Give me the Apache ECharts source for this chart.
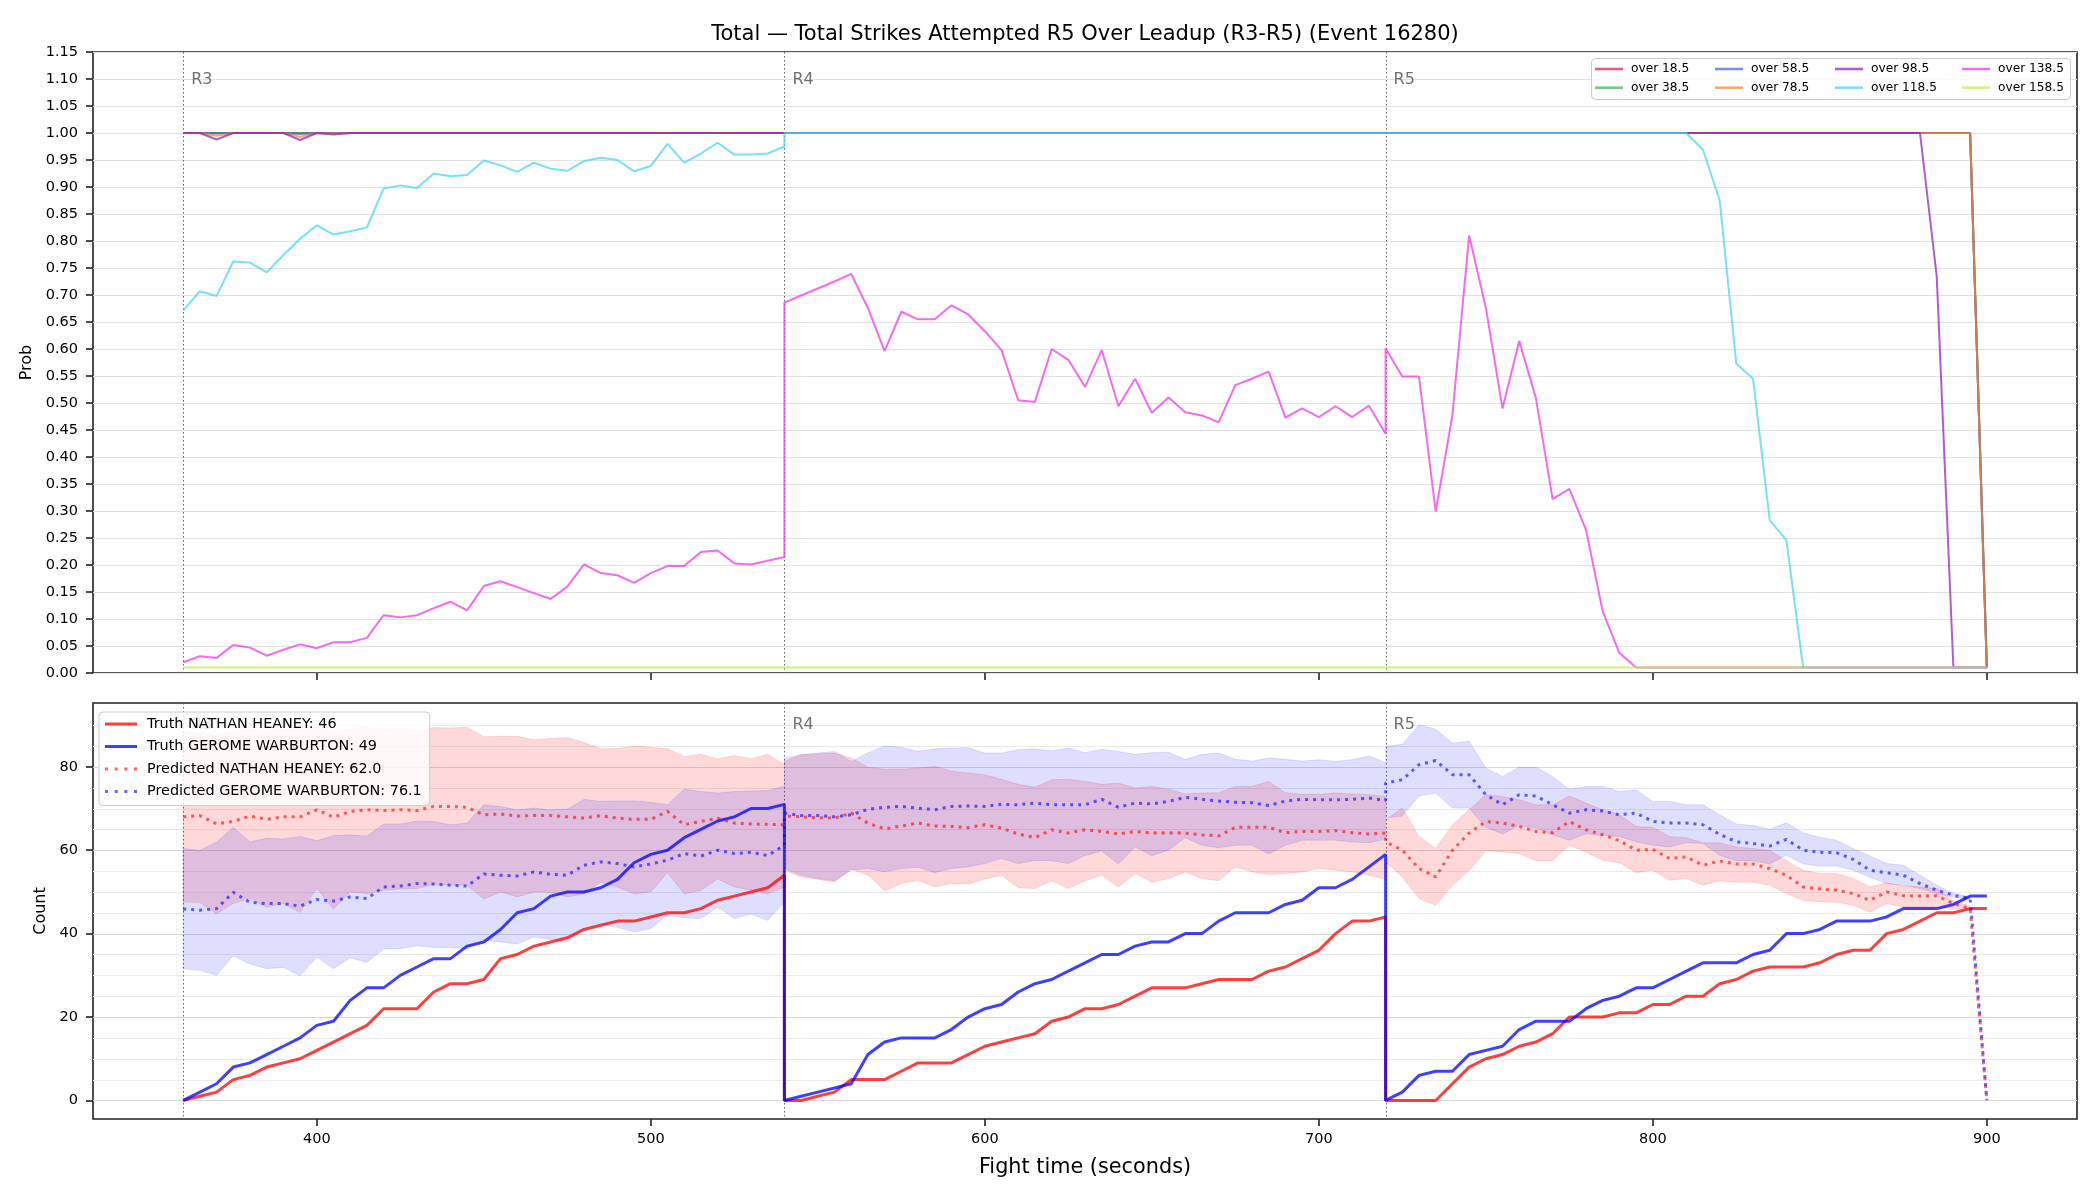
<!DOCTYPE html>
<html>
<head>
<meta charset="utf-8">
<title>Total Strikes Attempted R5 Over Leadup</title>
<script src="https://cdn.jsdelivr.net/npm/echarts@6/dist/echarts.min.js"></script>
<style>
  html, body { margin: 0; padding: 0; background: #fff; }
  #chart { width: 2100px; height: 1200px; }
</style>
</head>
<body>
<div id="chart"></div>
<script>
// rounds: each round is sampled every 5 s, boundary times appear twice (end of one round, start of next)
const ROUND_NAMES = ['R3', 'R4', 'R5'];
const ROUND_STARTS = [360, 540, 720];
const ROUND_OFFSETS = [0, 5, 10, 15, 20, 25, 30, 35, 40, 45, 50, 55, 60, 65, 70, 75, 80, 85, 90, 95,
  100, 105, 110, 115, 120, 125, 130, 135, 140, 145, 150, 155, 160, 165, 170, 175, 180];
const X_TICKS = [400, 500, 600, 700, 800, 900];
const COUNT_TICKS = [0, 20, 40, 60, 80];
const COUNT_GRID = [0, 5, 10, 15, 20, 25, 30, 35, 40, 45, 50, 55, 60, 65, 70, 75, 80, 85, 90];

// ---- top panel: probability of going over each line ----
const OVER_NAMES = ['over 18.5', 'over 38.5', 'over 58.5', 'over 78.5', 'over 98.5', 'over 118.5', 'over 138.5', 'over 158.5'];

const OVER_18 = [
  1,1,1,1,1,1,1,1,1,1, 1,1,1,1,1,1,1,1,1,1, 1,1,1,1,1,1,1,1,1,1, 1,1,1,1,1,1,1,
  1,1,1,1,1,1,1,1,1,1, 1,1,1,1,1,1,1,1,1,1, 1,1,1,1,1,1,1,1,1,1, 1,1,1,1,1,1,1,
  1,1,1,1,1,1,1,1,1,1, 1,1,1,1,1,1,1,1,1,1, 1,1,1,1,1,1,1,1,1,1, 1,1,1,1,1,1,0.01];
const OVER_38 = [
  1,1,1,1,1,1,1,1,1,1, 1,1,1,1,1,1,1,1,1,1, 1,1,1,1,1,1,1,1,1,1, 1,1,1,1,1,1,1,
  1,1,1,1,1,1,1,1,1,1, 1,1,1,1,1,1,1,1,1,1, 1,1,1,1,1,1,1,1,1,1, 1,1,1,1,1,1,1,
  1,1,1,1,1,1,1,1,1,1, 1,1,1,1,1,1,1,1,1,1, 1,1,1,1,1,1,1,1,1,1, 1,1,1,1,1,1,0.01];
const OVER_58 = [
  1,1,0.999,1,1,1,1,0.998,1,1, 1,1,1,1,1,1,1,1,1,1, 1,1,1,1,1,1,1,1,1,1, 1,1,1,1,1,1,1,
  1,1,1,1,1,1,1,1,1,1, 1,1,1,1,1,1,1,1,1,1, 1,1,1,1,1,1,1,1,1,1, 1,1,1,1,1,1,1,
  1,1,1,1,1,1,1,1,1,1, 1,1,1,1,1,1,1,1,1,1, 1,1,1,1,1,1,1,1,1,1, 1,1,1,1,1,1,0.01];
const OVER_78 = [
  1,1,0.995,1,1,1,1,0.993,1,0.999, 1,1,1,1,1,1,1,1,1,1, 1,1,1,1,1,1,1,1,1,1, 1,1,1,1,1,1,1,
  1,1,1,1,1,1,1,1,1,1, 1,1,1,1,1,1,1,1,1,1, 1,1,1,1,1,1,1,1,1,1, 1,1,1,1,1,1,1,
  1,1,1,1,1,1,1,1,1,1, 1,1,1,1,1,1,1,1,1,1, 1,1,1,1,1,1,1,1,1,1, 1,1,1,1,1,1,0.01];
const OVER_98 = [
  1,1,0.988,1,1,1,1,0.987,1,0.997, 1,1,1,1,1,1,1,1,1,1, 1,1,1,1,1,1,1,1,1,1, 1,1,1,1,1,1,1,
  1,1,1,1,1,1,1,1,1,1, 1,1,1,1,1,1,1,1,1,1, 1,1,1,1,1,1,1,1,1,1, 1,1,1,1,1,1,1,
  1,1,1,1,1,1,1,1,1,1, 1,1,1,1,1,1,1,1,1,1, 1,1,1,1,1,1,1,1,1,1, 1,1,1,0.735,0.01,0.01,0.01];
const OVER_118 = [
  0.671,0.707,0.698,0.762,0.760,0.742,0.774,0.804,0.829,0.812, 0.818,0.825,0.897,0.903,0.898,0.925,0.920,0.922,0.949,0.940,
  0.928,0.945,0.934,0.930,0.948,0.954,0.950,0.929,0.939,0.980, 0.945,0.962,0.982,0.960,0.960,0.962,0.975,
  1,1,1,1,1,1,1,1,1,1, 1,1,1,1,1,1,1,1,1,1, 1,1,1,1,1,1,1,1,1,1, 1,1,1,1,1,1,1,
  1,1,1,1,1,1,1,1,1,1, 1,1,1,1,1,1,1,1,1,0.969, 0.876,0.573,0.545,0.283,0.246,0.01,0.01,0.01,0.01,0.01,
  0.01,0.01,0.01,0.01,0.01,0.01,0.01];
const OVER_138 = [
  0.020,0.031,0.028,0.052,0.047,0.032,0.043,0.053,0.046,0.057, 0.057,0.065,0.107,0.103,0.107,0.120,0.132,0.116,0.161,0.170,
  0.159,0.148,0.137,0.160,0.201,0.185,0.181,0.167,0.185,0.198, 0.198,0.224,0.227,0.203,0.201,0.208,0.215,
  0.686,0.699,0.712,0.725,0.739,0.676,0.596,0.669,0.655,0.655, 0.681,0.664,0.633,0.598,0.505,0.502,0.600,0.580,0.530,0.598,
  0.494,0.545,0.482,0.510,0.483,0.477,0.464,0.533,0.545,0.558, 0.473,0.490,0.474,0.494,0.474,0.495,0.443,
  0.601,0.549,0.549,0.299,0.477,0.810,0.677,0.490,0.615,0.509, 0.322,0.341,0.265,0.114,0.037,0.01,0.01,0.01,0.01,0.01,
  0.01,0.01,0.01,0.01,0.01,0.01,0.01,0.01,0.01,0.01, 0.01,0.01,0.01,0.01,0.01,0.01,0.01];
const OVER_158 = [
  0.01,0.01,0.01,0.01,0.01,0.01,0.01,0.01,0.01,0.01, 0.01,0.01,0.01,0.01,0.01,0.01,0.01,0.01,0.01,0.01,
  0.01,0.01,0.01,0.01,0.01,0.01,0.01,0.01,0.01,0.01, 0.01,0.01,0.01,0.01,0.01,0.01,0.01,
  0.01,0.01,0.01,0.01,0.01,0.01,0.01,0.01,0.01,0.01, 0.01,0.01,0.01,0.01,0.01,0.01,0.01,0.01,0.01,0.01,
  0.01,0.01,0.01,0.01,0.01,0.01,0.01,0.01,0.01,0.01, 0.01,0.01,0.01,0.01,0.01,0.01,0.01,
  0.01,0.01,0.01,0.01,0.01,0.01,0.01,0.01,0.01,0.01, 0.01,0.01,0.01,0.01,0.01,0.01,0.01,0.01,0.01,0.01,
  0.01,0.01,0.01,0.01,0.01,0.01,0.01,0.01,0.01,0.01, 0.01,0.01,0.01,0.01,0.01,0.01,0.01];

// ---- bottom panel: strike counts ----
const TRUTH_HEANEY = [
  0,1,2,5,6,8,9,10,12,14, 16,18,22,22,22,26,28,28,29,34, 35,37,38,39,41,42,43,43,44,45, 45,46,48,49,50,51,54,
  0,0,1,2,5,5,5,7,9,9, 9,11,13,14,15,16,19,20,22,22, 23,25,27,27,27,28,29,29,29,31, 32,34,36,40,43,43,44,
  0,0,0,0,4,8,10,11,13,14, 16,20,20,20,21,21,23,23,25,25, 28,29,31,32,32,32,33,35,36,36, 40,41,43,45,45,46,46];
const TRUTH_WARBURTON = [
  0,2,4,8,9,11,13,15,18,19, 24,27,27,30,32,34,34,37,38,41, 45,46,49,50,50,51,53,57,59,60, 63,65,67,68,70,70,71,
  0,1,2,3,4,11,14,15,15,15, 17,20,22,23,26,28,29,31,33,35, 35,37,38,38,40,40,43,45,45,45, 47,48,51,51,53,56,59,
  0,2,6,7,7,11,12,13,17,19, 19,19,22,24,25,27,27,29,31,33, 33,33,35,36,40,40,41,43,43,43, 44,46,46,46,47,49,49];
const PRED_HEANEY = [
  68.0,68.3,66.3,66.9,68.2,67.4,68.0,68.0,69.7,67.9, 69.3,69.7,69.5,69.7,69.5,70.5,70.5,70.3,68.5,68.7,
  68.2,68.3,68.3,68.0,67.7,68.3,67.7,67.4,67.4,69.3, 66.1,66.9,67.7,66.5,66.3,66.2,66.1,
  68.2,68.0,67.8,67.7,68.9,66.5,65.1,65.8,66.5,65.8, 65.7,65.4,66.1,65.3,63.9,63.0,64.9,64.1,64.9,64.5,
  63.9,64.5,64.1,64.1,64.1,63.7,63.4,65.5,65.5,65.5, 64.2,64.5,64.5,64.7,64.2,63.9,64.1,
  62.0,60.0,55.6,53.6,60.0,64.1,66.9,66.5,65.7,64.5, 64.2,66.9,64.9,63.7,62.3,60.0,60.2,58.0,58.4,56.4,
  57.4,56.7,56.7,55.6,54.0,51.2,50.7,50.4,49.6,48.0, 50.0,49.1,49.0,49.1,47.2,46.0,0];
const PRED_WARBURTON = [
  45.9,45.6,46.0,49.9,47.5,47.2,47.2,46.6,48.2,47.8, 48.8,48.4,51.2,51.4,52.0,51.9,51.6,51.4,54.3,54.0,
  53.8,54.8,54.2,54.0,56.4,57.2,56.8,56.0,56.7,57.6, 59.2,58.6,60.0,59.2,59.5,58.7,61.2,
  68.9,68.3,68.3,68.0,68.5,69.8,70.3,70.5,70.1,69.7, 70.5,70.6,70.5,71.0,70.9,71.3,70.9,70.9,70.9,72.2,
  70.3,71.3,71.1,71.7,72.7,72.2,71.8,71.5,71.4,70.7, 71.8,72.2,72.1,72.1,72.2,72.5,71.9,
  76.1,76.9,80.5,81.5,78.1,78.1,73.3,70.9,73.3,73.0, 70.9,68.9,69.7,69.4,68.5,68.9,66.9,66.5,66.5,66.1,
  63.8,62.0,61.6,61.0,62.6,60.0,59.5,59.4,57.8,55.2, 54.6,54.0,52.0,50.4,49.2,48.4,0];
const HEANEY_HIGH = [
  88.5,88.0,87.5,88.5,89.0,88.5,89.0,88.8,89.5,88.5, 89.0,89.5,89.0,89.2,88.5,89.4,89.3,89.5,87.2,87.3,
  87.3,86.5,86.8,87.0,85.8,84.3,84.4,85.0,84.7,84.3, 82.5,83.0,81.9,82.7,81.9,83.0,80.5,
  81.3,82.9,83.1,83.3,82.1,79.9,79.4,79.4,79.7,80.1, 79.0,78.5,78.1,77.0,75.8,75.1,76.9,77.0,76.5,75.8,
  76.1,74.9,75.3,74.7,73.5,73.7,73.8,75.3,75.3,76.5, 73.8,73.4,73.4,73.7,73.5,73.3,72.9,
  67.3,70.1,63.3,60.4,66.1,69.7,73.3,72.9,72.1,70.9, 70.9,73.0,71.3,69.7,68.5,65.7,65.5,63.3,63.0,61.8,
  61.8,60.8,60.4,60.0,57.5,55.2,54.4,54.4,53.2,51.2, 52.2,51.4,51.2,50.8,47.9,46.6,null];
const HEANEY_LOW = [
  47.6,47.5,44.7,47.2,48.4,46.3,47.2,45.1,50.8,45.9, 50.0,49.6,50.4,50.7,50.8,51.8,51.6,51.6,48.3,50.0,
  48.8,50.0,49.9,48.8,49.5,52.4,51.2,49.5,50.0,54.6, 49.5,50.4,53.1,51.2,50.4,49.5,51.1,
  55.2,53.6,53.0,52.4,55.5,54.0,50.3,52.0,52.8,51.2, 52.0,51.9,53.1,54.0,51.0,50.8,52.7,50.8,52.7,54.0,
  51.2,54.4,52.3,53.2,54.8,53.2,52.7,56.0,54.8,54.2, 54.4,54.8,55.6,55.2,54.8,54.0,53.0,
  57.2,53.6,48.4,46.8,51.6,55.1,59.9,59.6,59.2,57.5, 57.5,61.2,59.6,57.6,57.0,54.6,55.2,52.8,53.2,51.6,
  52.7,52.3,52.3,51.6,49.6,48.0,47.6,47.5,46.8,45.2, 47.2,46.4,46.4,46.4,46.0,45.6,null];
const WARBURTON_HIGH = [
  60.4,60.0,62.0,65.5,62.0,62.9,62.7,63.3,62.3,63.5, 63.7,63.4,66.3,66.3,67.0,66.9,66.1,66.5,70.9,70.5,
  69.7,70.1,69.7,69.9,72.2,71.7,71.8,71.8,71.5,70.9, 74.7,74.1,73.7,74.1,74.2,74.3,75.4,
  82.1,82.9,83.3,83.7,81.3,83.3,85.0,84.7,83.7,84.3, 84.5,84.6,83.3,83.3,84.1,84.3,83.8,84.5,83.4,84.2,
  83.7,83.0,83.4,83.5,81.8,83.0,83.3,81.8,81.4,82.1, 81.8,81.4,81.7,81.3,81.7,82.6,81.0,
  84.9,85.4,90.1,89.0,85.7,86.1,79.7,77.7,79.9,79.9, 77.7,74.6,75.3,75.3,74.1,74.5,71.7,71.7,70.9,70.9,
  68.5,66.3,65.9,65.0,66.6,64.1,63.1,62.4,60.4,58.6, 56.8,56.4,54.0,51.6,49.6,48.8,null];
const WARBURTON_LOW = [
  31.6,31.2,30.0,34.7,32.7,31.6,31.9,29.9,34.4,31.6, 34.2,33.1,36.3,36.4,37.1,36.7,36.7,36.4,38.4,38.0,
  37.5,39.2,38.6,38.0,41.1,42.3,41.5,40.4,41.2,44.4, 43.8,43.6,46.4,43.6,44.7,43.2,47.5,
  55.6,54.0,53.2,52.7,55.2,55.6,54.8,55.6,55.9,54.6, 55.6,56.0,56.8,58.0,56.8,57.5,57.5,56.8,58.7,59.8,
  56.7,60.8,58.7,60.0,63.0,61.2,60.6,61.2,61.2,59.1, 61.2,62.4,62.4,62.4,62.0,61.8,62.6,
  67.7,68.2,73.0,73.7,70.1,70.1,65.5,63.9,65.9,65.3, 63.7,62.4,63.9,63.5,63.3,62.0,61.2,60.8,61.8,61.6,
  58.8,57.5,57.5,56.7,58.8,56.7,56.2,56.2,55.2,53.5, 52.0,51.6,50.8,49.6,48.7,48.2,null];

const TRUTH_NAMES = ['Truth NATHAN HEANEY: 46', 'Truth GEROME WARBURTON: 49'];
const PRED_NAMES = ['Predicted NATHAN HEANEY: 62.0', 'Predicted GEROME WARBURTON: 76.1'];

// ---- layout / style ----
const FONT = '"DejaVu Sans", Verdana, sans-serif';
const X_MIN = 333, X_MAX = 927;
const OVER_COLORS = ['rgba(230,25,75,0.72)', 'rgba(60,180,75,0.72)', 'rgba(67,99,216,0.72)', 'rgba(245,130,49,0.72)',
  'rgba(145,30,180,0.72)', 'rgba(66,212,244,0.72)', 'rgba(240,50,230,0.72)', 'rgba(191,239,69,0.72)'];
const OVER_VALUES = [OVER_18, OVER_38, OVER_58, OVER_78, OVER_98, OVER_118, OVER_138, OVER_158];

// legend glyphs: plain bar for solid lines, four squares for dotted
const ICON_TOP = 'path://M0,0H28V2.5H0Z';
const ICON_SOLID = 'path://M0,0H32V3H0Z';
const ICON_DOTTED = 'path://M0,0H3V3H0ZM9.67,0H12.67V3H9.67ZM19.33,0H22.33V3H19.33ZM29,0H32V3H29Z';

const TIME = ROUND_STARTS.flatMap(s => ROUND_OFFSETS.map(o => s + o));
const pts = vals => TIME.map((t, i) => [t, vals[i]]);

const chart = echarts.init(document.getElementById('chart'));

// vertical dotted round markers
function roundLines(g) {
  return {
    type: 'custom', xAxisIndex: g, yAxisIndex: g, z: 1, silent: true,
    data: ROUND_STARTS.map(t => [t, 0]),
    renderItem: (params, api) => {
      const cs = params.coordSys;
      const x = Math.round(api.coord([api.value(0), 0])[0]) + 0.5;
      return { type: 'line', shape: { x1: x, y1: cs.y, x2: x, y2: cs.y + cs.height },
        style: { stroke: '#666', lineWidth: 1, lineDash: [1.5, 2.5] } };
    }
  };
}
function roundLabels(g) {
  return {
    type: 'custom', xAxisIndex: g, yAxisIndex: g, z: 3, silent: true,
    data: ROUND_STARTS.map(t => [t, 0]),
    renderItem: (params, api) => {
      const cs = params.coordSys;
      const x = api.coord([api.value(0), 0])[0];
      return { type: 'text', x: x + 8, y: cs.y + cs.height * 0.03 + 1,
        style: { text: ROUND_NAMES[params.dataIndex], fill: '#707070', font: '16px ' + FONT, align: 'left', verticalAlign: 'top' } };
    }
  };
}
function band(lower, upper, fill, stroke) {
  return {
    type: 'custom', xAxisIndex: 1, yAxisIndex: 1, z: 2, silent: true,
    data: [[TIME[0], lower[0]]],
    renderItem: (params, api) => {
      const top = [], bot = [];
      TIME.forEach((t, i) => {
        if (lower[i] == null || upper[i] == null) return;
        top.push(api.coord([t, upper[i]]));
        bot.push(api.coord([t, lower[i]]));
      });
      return { type: 'polygon', shape: { points: top.concat(bot.reverse()) }, style: { fill: fill, stroke: stroke, lineWidth: 1 } };
    }
  };
}

const series = [];
series.push(roundLines(0));
OVER_NAMES.forEach((name, i) => {
  series.push({
    type: 'line', name: name, xAxisIndex: 0, yAxisIndex: 0, z: 2,
    data: pts(OVER_VALUES[i]), symbol: 'none', color: OVER_COLORS[i],
    lineStyle: { width: 2 }
  });
});
series.push(roundLabels(0));

// bottom grid lines (major every 20, minor every 5)
series.push({
  type: 'custom', xAxisIndex: 1, yAxisIndex: 1, z: 1, silent: true,
  data: COUNT_GRID.map(v => [X_MIN, v]),
  renderItem: (params, api) => {
    const cs = params.coordSys;
    const v = api.value(1);
    const y = Math.round(api.coord([X_MIN, v])[1]) + 0.5;
    return { type: 'line', shape: { x1: cs.x, y1: y, x2: cs.x + cs.width, y2: y },
      style: { stroke: COUNT_TICKS.includes(v) ? '#d9d9d9' : '#ebebeb', lineWidth: 1 } };
  }
});
series.push(roundLines(1));
series.push(band(HEANEY_LOW, HEANEY_HIGH, 'rgba(255,0,0,0.15)', 'rgba(255,0,0,0.12)'));
series.push(band(WARBURTON_LOW, WARBURTON_HIGH, 'rgba(0,0,255,0.13)', 'rgba(0,0,255,0.10)'));
series.push({ type: 'line', name: TRUTH_NAMES[0], xAxisIndex: 1, yAxisIndex: 1, z: 3, data: pts(TRUTH_HEANEY),
  symbol: 'none', color: 'rgba(255,0,0,0.75)', lineStyle: { width: 3 } });
series.push({ type: 'line', name: TRUTH_NAMES[1], xAxisIndex: 1, yAxisIndex: 1, z: 3, data: pts(TRUTH_WARBURTON),
  symbol: 'none', color: 'rgba(0,0,255,0.75)', lineStyle: { width: 3 } });
series.push({ type: 'line', name: PRED_NAMES[0], xAxisIndex: 1, yAxisIndex: 1, z: 4, data: pts(PRED_HEANEY),
  symbol: 'none', color: 'rgba(255,0,0,0.6)', lineStyle: { width: 3, type: [3, 5] } });
series.push({ type: 'line', name: PRED_NAMES[1], xAxisIndex: 1, yAxisIndex: 1, z: 4, data: pts(PRED_WARBURTON),
  symbol: 'none', color: 'rgba(0,0,255,0.6)', lineStyle: { width: 3, type: [3, 5] } });
series.push(roundLabels(1));

const tickStyle = { show: true, length: 7, lineStyle: { color: '#222', width: 1.6 } };
const labelStyle = { color: '#000', fontSize: 14.5, fontFamily: FONT };

const topLegendCols = [[OVER_NAMES[0], OVER_NAMES[1]], [OVER_NAMES[2], OVER_NAMES[3]],
  [OVER_NAMES[4], OVER_NAMES[5]], [OVER_NAMES[6], OVER_NAMES[7]]];
const topLegendLeft = [1595, 1715, 1835, 1962];

const option = {
  animation: false,
  backgroundColor: '#fff',
  grid: [
    { left: 93, right: 23, top: 52, height: 621, show: true, borderColor: '#222', borderWidth: 1.6 },
    { left: 93, right: 23, top: 703, height: 416, show: true, borderColor: '#222', borderWidth: 1.6 }
  ],
  xAxis: [
    { gridIndex: 0, type: 'value', min: X_MIN, max: X_MAX,
      axisLine: { show: false, onZero: false },
      axisTick: Object.assign({ customValues: X_TICKS }, tickStyle),
      axisLabel: { show: false }, splitLine: { show: false } },
    { gridIndex: 1, type: 'value', min: X_MIN, max: X_MAX,
      axisLine: { show: false, onZero: false },
      axisTick: Object.assign({ customValues: X_TICKS }, tickStyle),
      axisLabel: Object.assign({ customValues: X_TICKS, margin: 13 }, labelStyle),
      splitLine: { show: false },
      name: 'Fight time (seconds)', nameLocation: 'middle', nameGap: 38,
      nameTextStyle: { color: '#000', fontSize: 20.8, fontFamily: FONT } }
  ],
  yAxis: [
    { gridIndex: 0, type: 'value', min: 0, max: 1.15, interval: 0.05,
      axisLine: { show: false, onZero: false }, axisTick: tickStyle,
      axisLabel: Object.assign({ margin: 15, formatter: v => v.toFixed(2) }, labelStyle),
      splitLine: { show: true, lineStyle: { color: '#e3e3e3', width: 1 } },
      name: 'Prob', nameLocation: 'middle', nameGap: 55,
      nameTextStyle: { color: '#000', fontSize: 16, fontFamily: FONT } },
    { gridIndex: 1, type: 'value', min: -4.45, max: 95.3,
      axisLine: { show: false, onZero: false },
      axisTick: Object.assign({ customValues: COUNT_TICKS }, tickStyle),
      axisLabel: Object.assign({ customValues: COUNT_TICKS, margin: 15 }, labelStyle),
      splitLine: { show: false },
      name: 'Count', nameLocation: 'middle', nameGap: 42,
      nameTextStyle: { color: '#000', fontSize: 16, fontFamily: FONT } }
  ],
  legend: topLegendCols.map((names, c) => ({
    data: names.map(n => ({ name: n, icon: ICON_TOP })), orient: 'vertical', left: topLegendLeft[c], top: 62, padding: 0,
    itemWidth: 28, itemHeight: 2.5, itemGap: 4.7, selectedMode: false,
    textStyle: { color: '#000', fontSize: 12.2, lineHeight: 14, fontFamily: FONT, padding: [0, 0, 0, 3] }
  })).concat([{
    data: [
      { name: TRUTH_NAMES[0], icon: ICON_SOLID }, { name: TRUTH_NAMES[1], icon: ICON_SOLID },
      { name: PRED_NAMES[0], icon: ICON_DOTTED }, { name: PRED_NAMES[1], icon: ICON_DOTTED }
    ],
    orient: 'vertical', left: 99, top: 712,
    backgroundColor: 'rgba(255,255,255,0.8)', borderColor: '#cccccc', borderWidth: 1, borderRadius: 4,
    padding: [4, 8, 6, 6], itemWidth: 32, itemHeight: 3, itemGap: 6.5, selectedMode: false,
    textStyle: { color: '#000', fontSize: 14.4, lineHeight: 16, fontFamily: FONT, padding: [0, 0, 0, 5] }
  }]),
  graphic: [
    { type: 'rect', z: 3, silent: true, shape: { x: 1591.5, y: 58.5, width: 479, height: 41, r: 4 },
      style: { fill: 'rgba(255,255,255,0.8)', stroke: '#cccccc', lineWidth: 1 } },
    { type: 'text', z: 5, x: 1085, y: 24, silent: true,
      style: { text: 'Total \u2014 Total Strikes Attempted R5 Over Leadup (R3-R5) (Event 16280)',
        font: '21px ' + FONT, fill: '#000', align: 'center', verticalAlign: 'top' } }
  ],
  series: series
};

chart.setOption(option);
</script>
</body>
</html>
